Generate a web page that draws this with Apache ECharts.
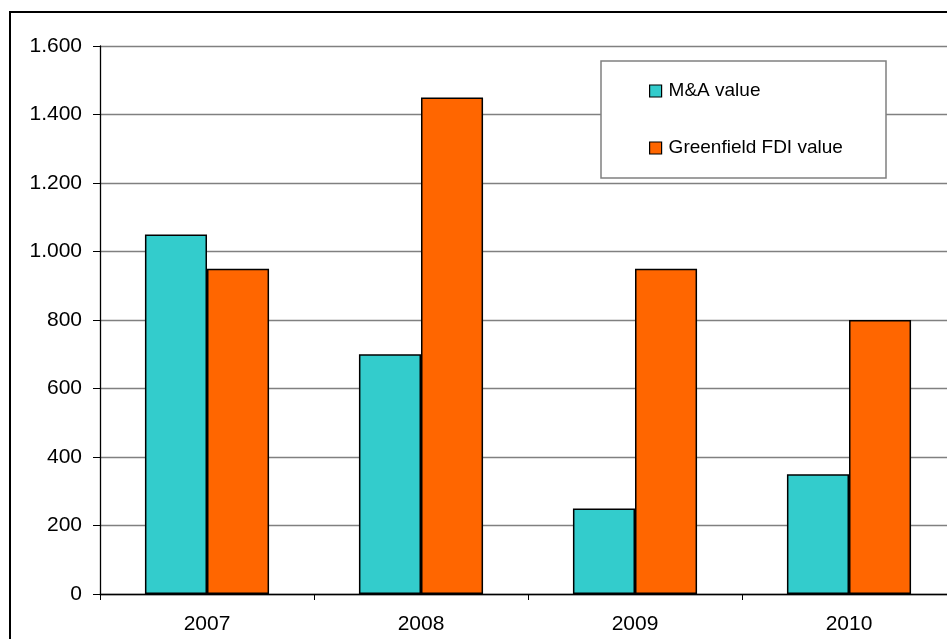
<!DOCTYPE html>
<html>
<head>
<meta charset="utf-8">
<script src="https://cdn.jsdelivr.net/npm/echarts@6/dist/echarts.min.js"></script>
<style>
  html, body { margin: 0; padding: 0; background: #fff; }
  #main { width: 947px; height: 639px; }
</style>
</head>
<body>
<div id="main"></div>
<script>
// data
var years = ['2007', '2008', '2009', '2010'];
var maValues = [1050, 700, 250, 350];
var greenfieldValues = [950, 1450, 950, 800];
var seriesNames = ['M&A value', 'Greenfield FDI value'];

// 千位用点号
function fmtNum(v) {
    return String(v).replace(/\B(?=(\d{3})+(?!\d))/g, '.');
}

var chart = echarts.init(document.getElementById('main'));
var option = {
    animation: false,
    backgroundColor: '#fff',
    textStyle: { fontFamily: 'Liberation Sans, Arial, sans-serif' },
    grid: {
        left: 100,
        top: 46,
        width: 856,
        bottom: 45,
        outerBoundsMode: 'none'
    },
    legend: {
        orient: 'vertical',
        left: 644,
        top: 76,
        padding: 5,
        itemGap: 37,
        itemWidth: 12,
        itemHeight: 12,
        icon: 'rect',
        z: 10,
        itemStyle: { borderColor: '#000', borderWidth: 1.2 },
        textStyle: { fontSize: 19, lineHeight: 20, color: '#000', padding: [0, 0, 0, 2] },
        data: seriesNames
    },
    xAxis: {
        type: 'category',
        data: years,
        axisLine: { lineStyle: { color: '#000', width: 1.3 } },
        axisTick: { show: true, length: 6, lineStyle: { color: '#000' } },
        axisLabel: { fontSize: 21, color: '#000', margin: 20 },
        splitLine: { show: false }
    },
    yAxis: {
        type: 'value',
        min: 0,
        max: 1600,
        interval: 200,
        axisLine: { show: true, lineStyle: { color: '#000', width: 1.3 } },
        axisTick: { show: true, length: 7, lineStyle: { color: '#000' } },
        axisLabel: {
            fontSize: 21,
            color: '#000',
            margin: 18,
            formatter: fmtNum
        },
        splitLine: { lineStyle: { color: '#808080', width: 1.3 } }
    },
    series: [
        {
            name: seriesNames[0],
            type: 'bar',
            data: maValues,
            barGap: '0%',
            barCategoryGap: '42%',
            itemStyle: { color: '#33CCCC', borderColor: '#000', borderWidth: 1.5 }
        },
        {
            name: seriesNames[1],
            type: 'bar',
            data: greenfieldValues,
            itemStyle: { color: '#FF6600', borderColor: '#000', borderWidth: 1.5 }
        }
    ],
    graphic: [
        {
            // 图例框
            type: 'rect',
            shape: { x: 601, y: 61, width: 285, height: 117 },
            style: { fill: '#fff', stroke: '#808080', lineWidth: 1.5 },
            silent: true,
            z: 3
        },
        {
            // 外框
            type: 'rect',
            shape: { x: 10, y: 12, width: 960, height: 660 },
            style: { fill: 'none', stroke: '#000', lineWidth: 2 },
            silent: true,
            z: 100
        }
    ]
};
chart.setOption(option);
</script>
</body>
</html>
